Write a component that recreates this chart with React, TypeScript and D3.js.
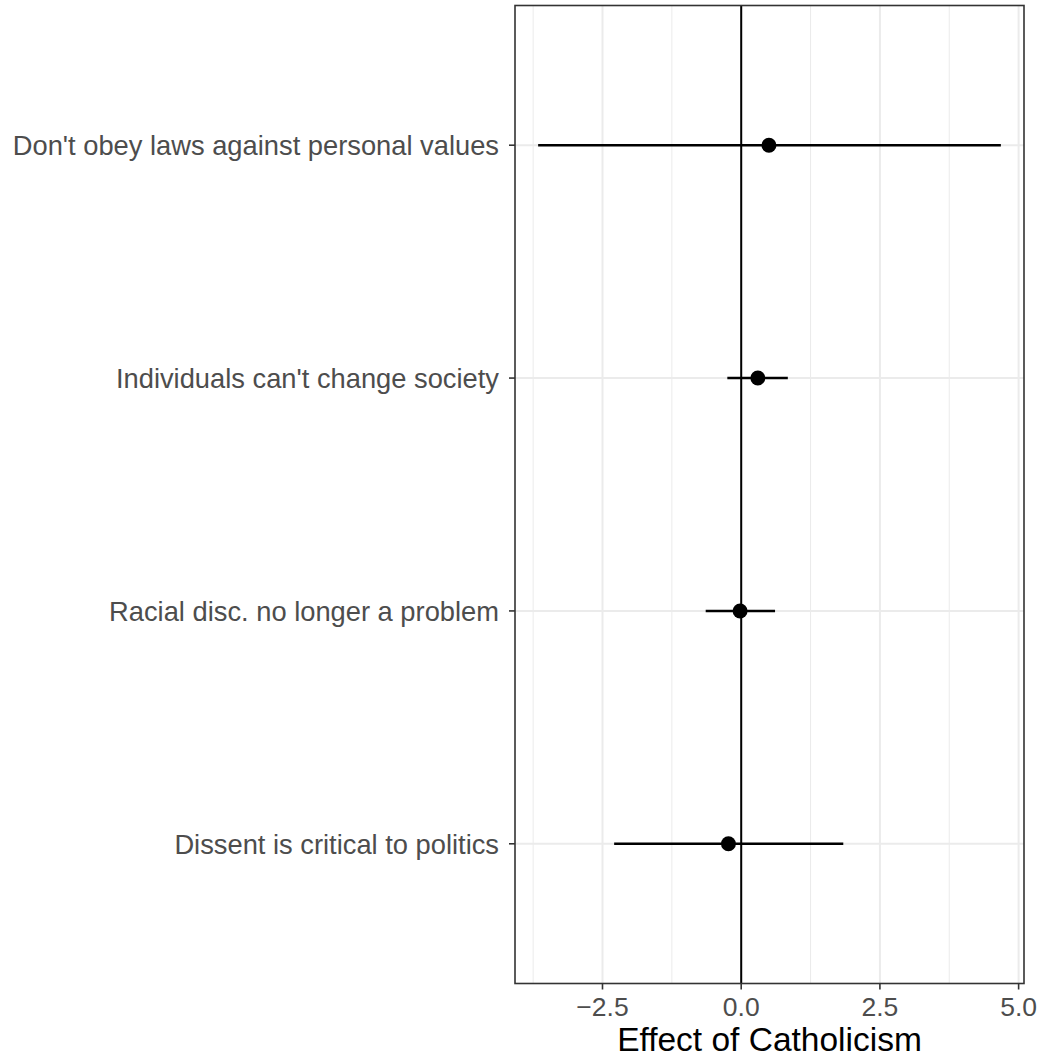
import * as d3 from "d3";
import React from "react";

// values, top row first
const labels = [
  "Don't obey laws against personal values",
  "Individuals can't change society",
  "Racial disc. no longer a problem",
  "Dissent is critical to politics",
];
const estimates = [0.5, 0.3, -0.02, -0.23];
const lower = [-3.66, -0.25, -0.64, -2.29];
const upper = [4.68, 0.84, 0.61, 1.84];
const xTicks = [-2.5, 0, 2.5, 5];
const xMinor = [-3.75, -1.25, 1.25, 3.75];

const width = 1042;
const height = 1057;
const panel = { left: 515, right: 1024, top: 5.5, bottom: 983.5 };
const font = "'Liberation Sans', Arial, Helvetica, sans-serif";

export default function App() {
  const lo = d3.min(lower)!;
  const hi = d3.max(upper)!;
  const pad = (hi - lo) * 0.05;
  const x = d3.scaleLinear().domain([lo - pad, hi + pad]).range([panel.left, panel.right]);
  const n = labels.length;
  // discrete axis: position 1..n with 0.6 expansion, first label at top
  const y = d3.scaleLinear().domain([0.4, n + 0.6]).range([panel.bottom, panel.top]);
  const yPos = (i: number) => y(n - i);

  const tickLen = 6;

  return (
    <svg
      width={width}
      height={height}
      style={{ position: "absolute", left: 0, top: 0, background: "#fff" }}
      fontFamily={font}
    >
      <rect x={panel.left} y={panel.top} width={panel.right - panel.left} height={panel.bottom - panel.top} fill="#fff" />
      {/* minor grid */}
      {xMinor.map((t) => (
        <line key={"mn" + t} x1={x(t)} x2={x(t)} y1={panel.top} y2={panel.bottom} stroke="#EBEBEB" strokeWidth={1} />
      ))}
      {/* major grid */}
      {xTicks.map((t) => (
        <line key={"mj" + t} x1={x(t)} x2={x(t)} y1={panel.top} y2={panel.bottom} stroke="#EBEBEB" strokeWidth={2} />
      ))}
      {labels.map((l, i) => (
        <line key={"hy" + i} x1={panel.left} x2={panel.right} y1={yPos(i)} y2={yPos(i)} stroke="#EBEBEB" strokeWidth={2} />
      ))}
      {/* zero line */}
      <line x1={x(0)} x2={x(0)} y1={panel.top} y2={panel.bottom} stroke="#000" strokeWidth={2} />
      {/* intervals and points */}
      {labels.map((l, i) => (
        <g key={"d" + i}>
          <line x1={x(lower[i])} x2={x(upper[i])} y1={yPos(i)} y2={yPos(i)} stroke="#000" strokeWidth={2.4} />
          <circle cx={x(estimates[i])} cy={yPos(i)} r={7.5} fill="#000" />
        </g>
      ))}
      <rect
        x={panel.left}
        y={panel.top}
        width={panel.right - panel.left}
        height={panel.bottom - panel.top}
        fill="none"
        stroke="#333333"
        strokeWidth={1.6}
      />
      {/* y axis */}
      {labels.map((l, i) => (
        <g key={"yl" + i}>
          <line x1={panel.left - tickLen} x2={panel.left} y1={yPos(i)} y2={yPos(i)} stroke="#333333" strokeWidth={1.6} />
          <text x={panel.left - 16} y={yPos(i)} dy="0.36em" textAnchor="end" fontSize={27.3} fill="#4D4D4D">
            {l}
          </text>
        </g>
      ))}
      {/* x axis */}
      {xTicks.map((t) => (
        <g key={"xt" + t}>
          <line x1={x(t)} x2={x(t)} y1={panel.bottom} y2={panel.bottom + tickLen} stroke="#333333" strokeWidth={1.6} />
          <text x={x(t)} y={1015.7} textAnchor="middle" fontSize={26.5} fill="#4D4D4D">
            {d3.format(".1f")(t).replace("-", "\u2212")}
          </text>
        </g>
      ))}
      <text x={(panel.left + panel.right) / 2} y={1050.5} textAnchor="middle" fontSize={33.5} fill="#000">
        Effect of Catholicism
      </text>
    </svg>
  );
}
